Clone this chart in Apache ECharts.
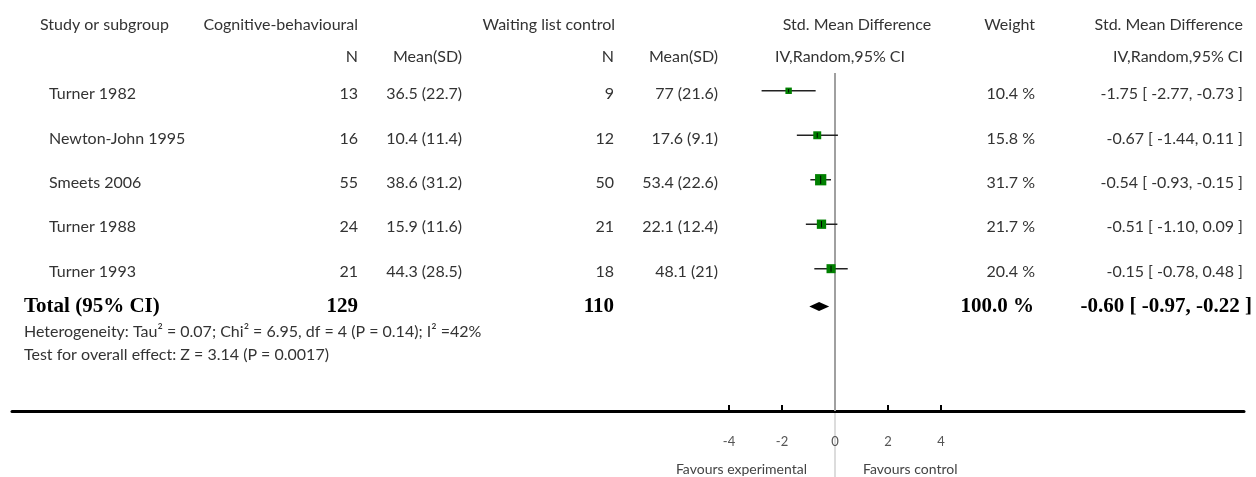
<!DOCTYPE html>
<html><head><meta charset="utf-8">
<script src="https://cdn.jsdelivr.net/npm/echarts@6/dist/echarts.min.js"></script>
<style>html,body{margin:0;padding:0;background:#fff}#c{width:1256px;height:477px}</style>
</head><body><div id="c"></div>
<script>
// ---- data ----
const studies = ['Turner 1982','Newton-John 1995','Smeets 2006','Turner 1988','Turner 1993'];
const cbN = [13,16,55,24,21];
const cbMean = [36.5,10.4,38.6,15.9,44.3];
const cbSD = [22.7,11.4,31.2,11.6,28.5];
const wlN = [9,12,50,21,18];
const wlMean = [77,17.6,53.4,22.1,48.1];
const wlSD = [21.6,9.1,22.6,12.4,21];
const weights = [10.4,15.8,31.7,21.7,20.4];
const smd = [-1.75,-0.67,-0.54,-0.51,-0.15];
const ciLow = [-2.77,-1.44,-0.93,-1.10,-0.78];
const ciHigh = [-0.73,0.11,-0.15,0.09,0.48];
const totalCbN = 129;
const totalWlN = 110;
const totalWeight = 100.0;
const totalSmd = -0.60;
const totalLow = -0.97;
const totalHigh = -0.22;
const xTicks = [-4,-2,0,2,4];
const heterogeneity = 'Heterogeneity: Tau\u00B2 = 0.07; Chi\u00B2 = 6.95, df = 4 (P = 0.14); I\u00B2 =42%';
const overallTest = 'Test for overall effect: Z = 3.14 (P = 0.0017)';

// ---- layout ----
const FONT = 'Lato';
const FS = 16;
const TXT = '#333';
const TOTAL_ROW = 4.85;
const TEXT_OFF = 0.07;
const col = {name:49, cbN:358, cbMS:462, wlN:614, wlMS:718, weight:1035, smd:1243};
const f2 = v => v.toFixed(2);

const chart = echarts.init(document.getElementById('c'), null, {renderer:'canvas'});

function t(text, x, y, align, extra){
  return {type:'text', style:Object.assign({text:text, x:x, y:y, align:align, verticalAlign:'middle',
    fontFamily:FONT, fontSize:FS, fill:TXT}, extra||{})};
}

const tableData = studies.map((s,i)=>[i]);
const forestData = studies.map((s,i)=>[i, smd[i], ciLow[i], ciHigh[i], weights[i]]);

const option = {
  animation:false,
  grid:{left:12, right:12, top:73, bottom:66},
  xAxis:{type:'value', position:'bottom', min:(12-835)/26.5, max:(1244-835)/26.5,
    axisLine:{show:true, onZero:false, lineStyle:{color:'#000', width:3}},
    axisTick:{show:true, inside:true, length:6, customValues:xTicks, lineStyle:{color:'#000', width:2}},
    axisLabel:{show:true, customValues:xTicks, color:'#555', fontSize:13, fontFamily:FONT, margin:24},
    splitLine:{show:false}},
  yAxis:{type:'value', inverse:true, min:-0.4, max:7.2, show:false},
  series:[
    { // table text
      type:'custom', data:tableData, silent:true, z:5,
      renderItem:function(params, api){
        const i = api.value(0);
        const y = api.coord([0, i + TEXT_OFF])[1];
        return {type:'group', children:[
          t(studies[i], col.name, y, 'left'),
          t(String(cbN[i]), col.cbN, y, 'right'),
          t(cbMean[i] + ' (' + cbSD[i] + ')', col.cbMS, y, 'right'),
          t(String(wlN[i]), col.wlN, y, 'right'),
          t(wlMean[i] + ' (' + wlSD[i] + ')', col.wlMS, y, 'right'),
          t(weights[i].toFixed(1) + ' %', col.weight, y, 'right'),
          t(f2(smd[i]) + ' [ ' + f2(ciLow[i]) + ', ' + f2(ciHigh[i]) + ' ]', col.smd, y, 'right')
        ]};
      }
    },
    { // total row text
      type:'custom', data:[[TOTAL_ROW]], silent:true, z:5,
      renderItem:function(params, api){
        const y = api.coord([0, api.value(0)])[1];
        const b = {fontFamily:'Liberation Serif', fontWeight:'bold', fontSize:21, fill:'#000'};
        return {type:'group', children:[
          t('Total (95% CI)', 24, y, 'left', b),
          t(String(totalCbN), col.cbN, y, 'right', b),
          t(String(totalWlN), col.wlN, y, 'right', b),
          t(totalWeight.toFixed(1) + ' %', 1034, y, 'right', b),
          t(f2(totalSmd) + ' [ ' + f2(totalLow) + ', ' + f2(totalHigh) + ' ]', 1252, y, 'right', b)
        ]};
      }
    },
    { // forest marks
      type:'custom', data:forestData, z:10,
      encode:{x:[1,2,3], y:0},
      renderItem:function(params, api){
        const row = api.value(0);
        const p = api.coord([api.value(1), row]);
        const pl = api.coord([api.value(2), row]);
        const ph = api.coord([api.value(3), row]);
        const s = 2.0 * Math.sqrt(api.value(4));
        return {type:'group', children:[
          {type:'line', shape:{x1:pl[0], y1:p[1], x2:ph[0], y2:p[1]}, style:{stroke:'#222', lineWidth:1.5}},
          {type:'rect', shape:{x:p[0]-s/2, y:p[1]-s/2, width:s, height:s}, style:{fill:'#008000'}},
          {type:'line', shape:{x1:p[0], y1:p[1]-s/2+1.5, x2:p[0], y2:p[1]+s/2-1.5}, style:{stroke:'#000', lineWidth:1}}
        ]};
      },
      markLine:{silent:true, symbol:'none', label:{show:false},
        lineStyle:{color:'#a0a0a0', width:2, type:'solid'},
        data:[{xAxis:0}]}
    },
    { // diamond
      type:'custom', data:[[TOTAL_ROW, totalSmd, totalLow, totalHigh]], z:10,
      encode:{x:[1,2,3], y:0},
      renderItem:function(params, api){
        const row = api.value(0);
        const p = api.coord([api.value(1), row]);
        const pl = api.coord([api.value(2), row]);
        const ph = api.coord([api.value(3), row]);
        const h = 4.5;
        return {type:'polygon', shape:{points:[[pl[0],p[1]],[p[0],p[1]-h],[ph[0],p[1]],[p[0],p[1]+h]]},
          style:{fill:'#000'}};
      }
    }
  ],
  graphic:[
    {type:'line', shape:{x1:12, y1:73, x2:1244, y2:73}, style:{stroke:'#000', lineWidth:3}},
    t('Study or subgroup', 40, 25, 'left'),
    t('Cognitive-behavioural', 358, 25, 'right'),
    t('N', 358, 57, 'right'),
    t('Mean(SD)', 462, 57, 'right'),
    t('Waiting list control', 615, 25, 'right'),
    t('N', 614, 57, 'right'),
    t('Mean(SD)', 718, 57, 'right'),
    t('Std. Mean Difference', 857, 25, 'center'),
    t('IV,Random,95% CI', 840, 57, 'center'),
    t('Weight', 1035, 25, 'right'),
    t('Std. Mean Difference', 1243, 25, 'right'),
    t('IV,Random,95% CI', 1243, 57, 'right'),
    t(heterogeneity, 24, 332, 'left', {fontSize:16}),
    t(overallTest, 24, 355, 'left', {fontSize:16}),
    t('Favours experimental', 807, 469, 'right', {fontSize:14, fill:'#444'}),
    t('Favours control', 863, 469, 'left', {fontSize:14, fill:'#444'})
  ]
};
chart.setOption(option);
const zx = chart.convertToPixel({xAxisIndex:0}, 0);
chart.setOption({graphic:[{type:'line', z:-1, shape:{x1:zx, y1:412, x2:zx, y2:477}, style:{stroke:'#dcdcdc', lineWidth:2}}]});
</script></body></html>
